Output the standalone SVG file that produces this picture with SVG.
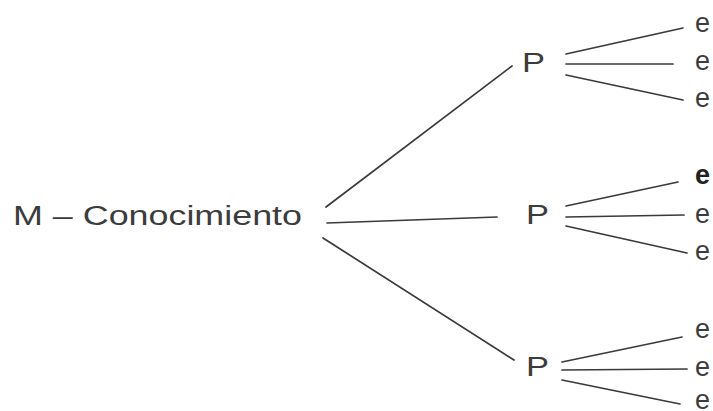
<svg xmlns="http://www.w3.org/2000/svg" width="713" height="411" viewBox="0 0 713 411">
<style>
.t{font-family:"Liberation Sans","DejaVu Sans",sans-serif;fill:#3c3c3c;}
.root{font-size:27px;}
.p{font-size:27px;}
.e{font-size:27px;}
.c line{stroke:#3a3a3a;stroke-width:1.7;stroke-linecap:round;}
</style>
<rect width="713" height="411" fill="#ffffff"/>
<g id="root"><text class="t root" x="13" y="225" textLength="289" lengthAdjust="spacingAndGlyphs">M – Conocimiento</text></g>
<g id="p1"><text class="t p" x="522" y="72" textLength="23" lengthAdjust="spacingAndGlyphs">P</text></g>
<g id="p2"><text class="t p" x="526" y="224" textLength="23" lengthAdjust="spacingAndGlyphs">P</text></g>
<g id="p3"><text class="t p" x="526" y="376" textLength="23" lengthAdjust="spacingAndGlyphs">P</text></g>
<g id="e1"><text class="t e" x="695" y="32">e</text></g>
<g id="e2"><text class="t e" x="695" y="70">e</text></g>
<g id="e3"><text class="t e" x="695" y="107">e</text></g>
<g id="e4"><text class="t e" x="695" y="184" style="font-weight:bold;fill:#222">e</text></g>
<g id="e5"><text class="t e" x="695" y="223">e</text></g>
<g id="e6"><text class="t e" x="695" y="260">e</text></g>
<g id="e7"><text class="t e" x="695" y="338">e</text></g>
<g id="e8"><text class="t e" x="695" y="376">e</text></g>
<g id="e9"><text class="t e" x="695" y="409">e</text></g>
<g class="c" id="connectors">
<line x1="326" y1="207" x2="512" y2="66"/>
<line x1="327" y1="223" x2="497" y2="217"/>
<line x1="323" y1="238" x2="514" y2="360"/>
<line x1="566" y1="54" x2="683" y2="28"/>
<line x1="566" y1="64" x2="673" y2="64"/>
<line x1="566" y1="75" x2="683" y2="100"/>
<line x1="566" y1="206" x2="678" y2="182"/>
<line x1="566" y1="217" x2="684" y2="215"/>
<line x1="566" y1="226" x2="687" y2="253"/>
<line x1="562" y1="362" x2="682" y2="337"/>
<line x1="562" y1="370" x2="687" y2="369"/>
<line x1="562" y1="380" x2="680" y2="404"/>
</g>
</svg>
